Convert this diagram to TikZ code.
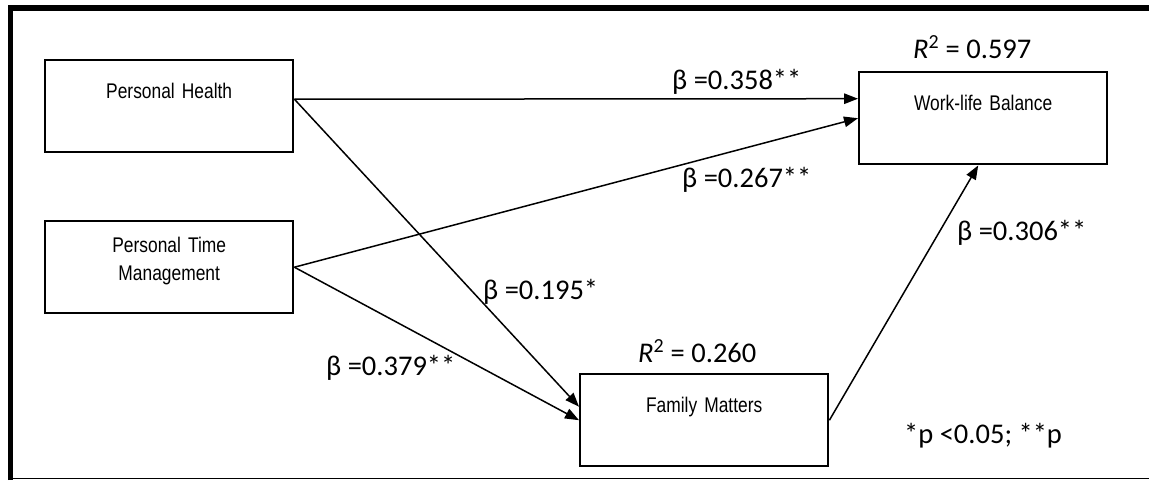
\documentclass[tikz,border=0pt]{standalone}
\usepackage{fontspec}
\setmainfont{Carlito}
\newfontfamily\boxfont[FakeStretch=0.82]{Liberation Sans}
\usetikzlibrary{arrows.meta}
\usetikzlibrary{positioning}
\tikzset{
  box/.style = {draw, rectangle, line width=2.4pt, anchor=north west, inner sep=0pt,
    text width=248pt, align=center, text height=38.5pt, text depth=53.5pt,
    font=\boxfont\fontsize{21.2}{28}\selectfont},
  coef/.style = {anchor=base west, inner sep=0pt, font=\fontsize{28.5}{34}\selectfont},
  edge/.style = {-{Triangle[length=14pt,width=10.5pt]}, line width=1.5pt},
}

\begin{document}
\begin{tikzpicture}[x=1pt, y=-1pt]
\useasboundingbox (0,0) rectangle (1149,480);

% frame
\draw[line width=5.5pt] (10.5,480) -- (10.5,8) -- (1149,8);
\draw[line width=1.5pt] (8,478.5) -- (1149,478.5);

\node[box] (ph) at (44,59) {Personal Health};
\node[box, text height=31pt, text depth=61pt] (ptm) at (44,220) {Personal Time\\Management};
\node[box] (wlb) at (858,71) {Work-life Balance};
\node[box] (fm) at (579,373) {Family Matters};

\node[coef] (r2wlb) at (913,58) {\textit{R}\textsuperscript{2} = 0.597};
\node[coef] (r2fm) at (638,362) {\textit{R}\textsuperscript{2} = 0.260};

\draw[edge] ([yshift=7pt]ph.east) -- ([yshift=19.5pt]wlb.west);
\draw[edge] ([yshift=7pt]ph.east) -- ([yshift=13.5pt]fm.west);
\draw[edge] (ptm.east) -- (wlb.west);
\draw[edge] (ptm.east) -- (fm.west);
\draw[edge] (fm.east) -- ([xshift=-5pt]wlb.south);

\node[coef] (b1) at (672,89) {β =0.358**};
\node[coef] (b2) at (682,187) {β =0.267**};
\node[coef] (b3) at (483,299) {β =0.195*};
\node[coef] (b4) at (326,375) {β =0.379**};
\node[coef] (b5) at (957,240) {β =0.306**};

% note
\node[coef] (sig) at (904,443) {*p <0.05; **p};
\end{tikzpicture}
\end{document}
